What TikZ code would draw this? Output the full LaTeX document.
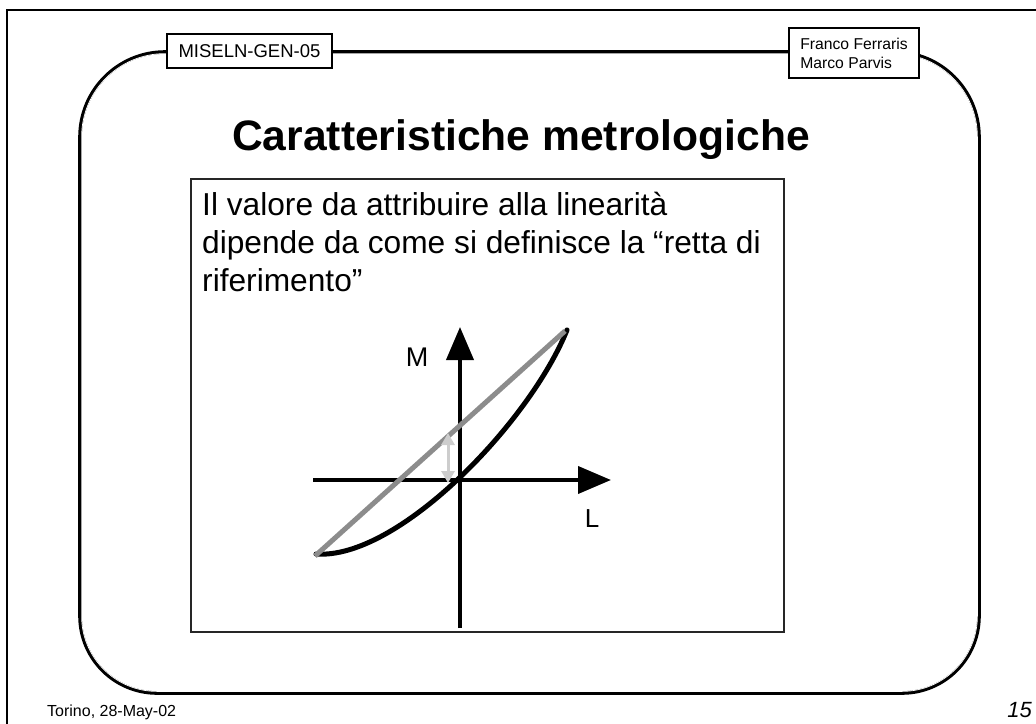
\documentclass[tikz,border=0pt]{standalone}
\usepackage{fontspec}
\setmainfont{Liberation Sans}
\usetikzlibrary{arrows.meta}
\definecolor{refgray}{RGB}{140,140,140}
\definecolor{lightarr}{RGB}{205,205,205}
\newcommand\frameoutline[1]{(80+#1,137) -- (80+#1,616) arc[start angle=180,end angle=90,radius=77-#1] -- (902,693-#1) arc[start angle=90,end angle=0,radius=77-#1] -- (979-#1,137) arc[start angle=0,end angle=-90,radius=85-#1] -- (165,52+#1) arc[start angle=-90,end angle=-180,radius=85-#1] -- cycle}
\tikzset{
  hdrbox/.style={draw=black, line width=1.1pt, fill=white, inner sep=0pt},
  axisline/.style={line width=4pt, -{Triangle[length=33pt,width=27pt]}},
  bodytxt/.style={anchor=base west, inner sep=0pt, font=\fontsize{31.7}{38}\selectfont},
}
\begin{document}
\begin{tikzpicture}[x=1pt,y=-1pt]
\useasboundingbox (0,0) rectangle (1036,723);
% page border
\draw[line width=2.5pt] (7,730) -- (7,10) -- (1040,10);
% rounded frame (double line)
\draw[line width=3.6pt] \frameoutline{0};
\draw[white, line width=0.7pt] \frameoutline{1.6};
% header boxes
\node[hdrbox, minimum width=165pt, minimum height=34pt, font=\fontsize{18.5}{22}\selectfont] (code) at (249.5,51) {MISELN-GEN-05};
\node[hdrbox, minimum width=130pt, minimum height=50pt, align=left, font=\fontsize{15.7}{19}\selectfont] (authors) at (854,53) {Franco Ferraris\\Marco Parvis};
% title
\node[anchor=base, inner sep=0pt, font=\bfseries\fontsize{42.6}{48}\selectfont] (title) at (521,150) {Caratteristiche metrologiche};
% content panel
\node[draw=black!85, line width=1.2pt, minimum width=593pt, minimum height=453pt, inner sep=0pt] (panel) at (487.5,405.5) {};
\node[bodytxt] (l1) at (202,215) {Il valore da attribuire alla linearità};
\node[bodytxt] (l2) at (202,253) {dipende da come si definisce la “retta di};
\node[bodytxt] (l3) at (202,291) {riferimento”};
% graph
\coordinate (vbot) at (460,628);
\coordinate (vtop) at (460,327);
\coordinate (hleft) at (313,480);
\coordinate (hright) at (611,480);
\draw[axisline] (vbot) -- (vtop);
\draw[axisline] (hleft) -- (hright);
\coordinate (pA) at (315,556);
\coordinate (pB) at (565,331);
\coordinate (cA) at (316,554);
\coordinate (cB) at (567,330);
\draw[line width=5pt, line cap=round] (cA) .. controls (398,560) and (530,422) .. (cB);
\draw[refgray, line width=5pt] (pA) -- (pB);
\coordinate (dtop) at (448,433);
\coordinate (dbot) at (448,483);
\draw[lightarr, line width=3pt, {Triangle[length=12pt,width=13pt]}-{Triangle[length=12pt,width=13pt]}] (dtop) -- (dbot);
\node[inner sep=0pt, font=\fontsize{27}{30}\selectfont] (M) at (417,357) {M};
\node[inner sep=0pt, font=\fontsize{26}{29}\selectfont] (L) at (592,519) {L};
% footer
\node[anchor=base west, inner sep=0pt, font=\fontsize{16}{19}\selectfont] (foot) at (47,716) {Torino, 28-May-02};
\node[anchor=base east, inner sep=0pt, font=\itshape\fontsize{22}{26}\selectfont] (pnum) at (1032,717) {15};
\end{tikzpicture}
\end{document}
